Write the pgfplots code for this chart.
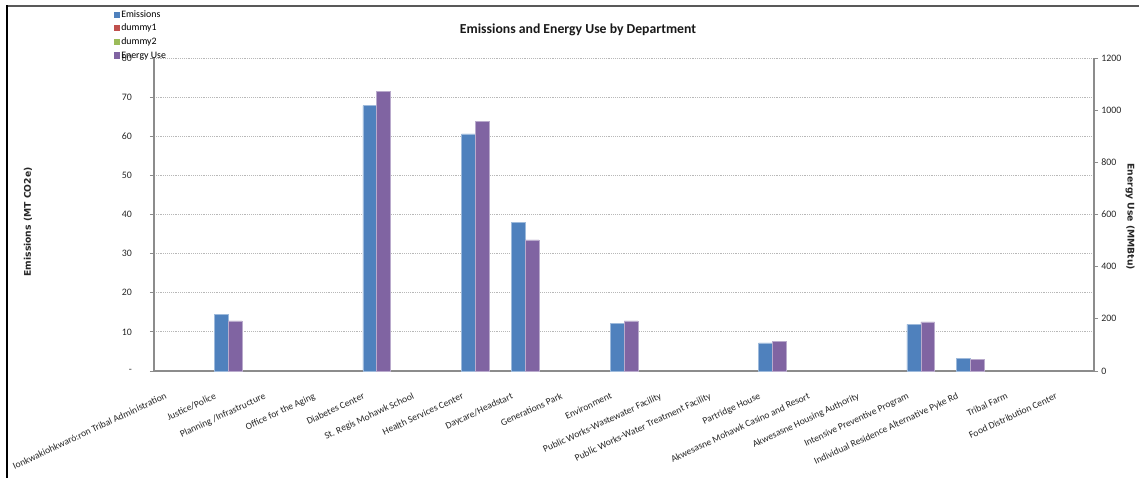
\documentclass[border=0pt]{standalone}
\usepackage{pgfplots}
\pgfplotsset{compat=1.18}
\usepackage{fontspec}
\setmainfont{Carlito}
\newfontfamily\labfont{DejaVu Sans}
\definecolor{cEm}{HTML}{4F81BD}
\definecolor{cEn}{HTML}{8064A2}
\definecolor{cD1}{HTML}{C0504D}
\definecolor{cD2}{HTML}{9BBB59}
\definecolor{axgray}{HTML}{8C8C8C}
\begin{document}
\begin{tikzpicture}
\path[use as bounding box] (0,0) rectangle (854.25pt,358.5pt);
\draw[black!65, line width=1.5pt] (5pt,354pt) -- (854.25pt,354pt);
\draw[black, line width=0.8pt] (5.25pt,0pt) -- (5.25pt,354.5pt);
\begin{axis}[
  at={(115.5pt,80.25pt)}, anchor=south west,
  scale only axis, width=705pt, height=234.75pt,
  xmin=-0.5, xmax=18.5, ymin=0, ymax=80,
  axis y line*=left, axis x line*=bottom,
  axis line style={axgray, line width=0.8pt},
  xtick={0,...,18},
  xticklabels={Ionkwakiohkwaró:ron Tribal Administration,Justice/Police,Planning /Infrastructure,Office for the Aging,Diabetes Center,St. Regis Mohawk School,Health Services Center,Daycare/Headstart,Generations Park,Environment,Public Works-Wastewater Facility,Public Works-Water Treatment Facility,Partridge House,Akwesasne Mohawk Casino and Resort,Akwesasne Housing Authority,Intensive Preventive Program,Individual Residence Alternative Pyke Rd,Tribal Farm,Food Distribution Center},
  x tick style={draw=none},
  minor xtick={-0.5,0.5,...,18.5},
  minor x tick style={axgray, line width=0.6pt},
  minor tick length=3pt, major tick length=3pt,
  tick align=outside,
  xticklabel style={rotate=25, anchor=north east, font=\fontsize{7.2}{8}\selectfont, inner sep=0pt, xshift=-15pt, yshift=-7pt, text=black!85},
  ytick={0,10,...,80},
  yticklabels={-,10,20,30,40,50,60,70,80},
  y tick style={axgray, line width=0.6pt},
  yticklabel style={font=\fontsize{7.4}{8}\selectfont, xshift=-10pt, text=black!85},
  /pgf/number format/assume math mode=true,
  ymajorgrids, major grid style={densely dotted, black!28, line width=0.7pt},
  clip=false,
]
\addplot[ybar, bar width=0.28, bar shift=-0.14, fill=cEm, draw=cEm!55!white, line width=0.4pt]
  coordinates {(1,14.4) (4,67.8) (6,60.6) (7,37.9) (9,12.2) (12,7.2) (15,11.9) (16,3.2)};
\end{axis}
\begin{axis}[
  at={(115.5pt,80.25pt)}, anchor=south west,
  scale only axis, width=705pt, height=234.75pt,
  xmin=-0.5, xmax=18.5, ymin=0, ymax=1200,
  axis y line*=right, axis x line=none,
  axis line style={axgray, line width=0.8pt},
  ytick={0,200,...,1200},
  y tick style={axgray, line width=0.6pt},
  major tick length=3pt, tick align=outside,
  yticklabel style={font=\fontsize{7.4}{8}\selectfont, xshift=-1pt, text=black!85},
  /pgf/number format/assume math mode=true,
  /pgf/number format/set thousands separator={},
  legend image code/.code={\fill[#1, draw=none] (0pt,-2.3pt) rectangle (4.6pt,2.3pt);},
  legend style={at={(-0.047,1.165)}, anchor=north west, draw=none, fill=none,
    font=\fontsize{7.4}{8}\selectfont, row sep=2.0pt,
    nodes={inner sep=0.8pt, text height=5.2pt, text depth=1.4pt}},
  legend cell align=left,
  clip=false,
]
\addlegendimage{fill=cEm}
\addlegendimage{fill=cD1}
\addlegendimage{fill=cD2}
\addlegendimage{fill=cEn}
\addplot[ybar, bar width=0.28, bar shift=0.14, fill=cEn, draw=cEn!55!white, line width=0.4pt, forget plot]
  coordinates {(1,192) (4,1073) (6,958) (7,503) (9,192) (12,113) (15,188) (16,45)};
\legend{Emissions,dummy1,dummy2,Energy Use}
\end{axis}
\node[font=\bfseries\fontsize{10.3}{12}\selectfont, text=black!90] at (433.5pt,336pt) {Emissions and Energy Use by Department};
\node[font=\labfont\bfseries\fontsize{6.9}{8}\selectfont, rotate=90, text=black!85] at (21pt,192pt) {Emissions (MT CO2e)};
\node[font=\labfont\bfseries\fontsize{6.9}{8}\selectfont, rotate=-90, text=black!85] at (847.5pt,196pt) {Energy Use (MMBtu)};
\end{tikzpicture}
\end{document}
